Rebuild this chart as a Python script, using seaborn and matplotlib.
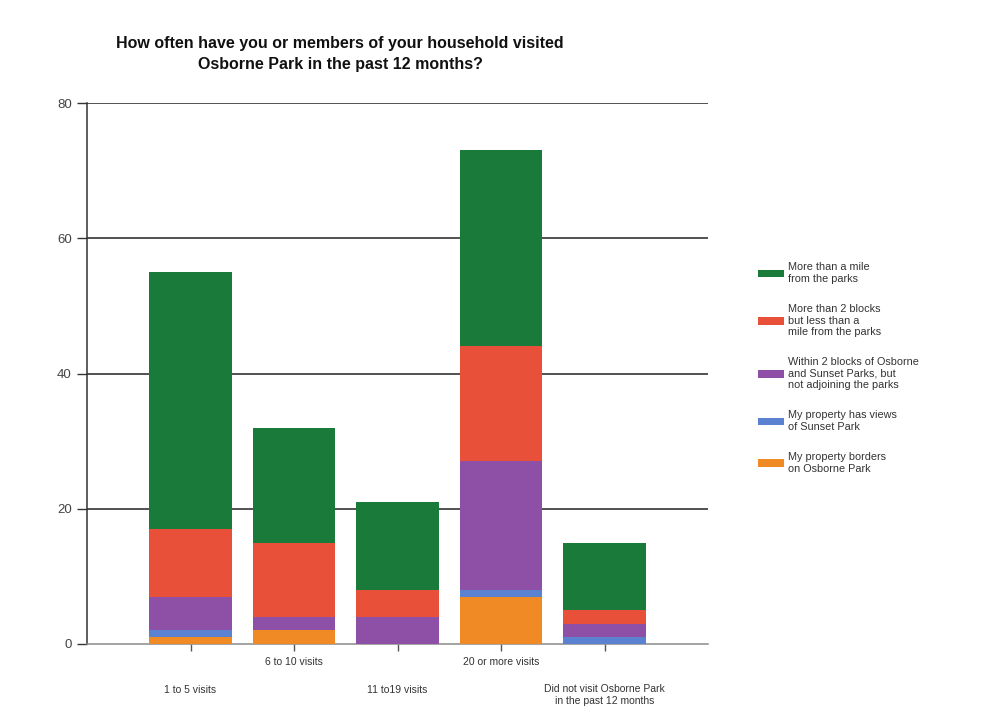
import matplotlib
matplotlib.use("Agg")
import matplotlib.pyplot as plt
import matplotlib.transforms as mtransforms
from matplotlib.patches import Patch
import numpy as np
import pandas as pd
import seaborn as sns

# Survey responses: visit frequency by distance from the parks
categories = ["1 to 5 visits", "6 to 10 visits", "11 to19 visits",
              "20 or more visits",
              "Did not visit Osborne Park\nin the past 12 months"]
borders_osborne = [1, 2, 0, 7, 0]
views_sunset = [1, 0, 0, 1, 1]
within_2_blocks = [5, 2, 4, 19, 2]
two_blocks_to_mile = [10, 11, 4, 17, 2]
more_than_mile = [38, 17, 13, 29, 10]

series_names = [
    "My property borders\non Osborne Park",
    "My property has views\nof Sunset Park",
    "Within 2 blocks of Osborne\nand Sunset Parks, but\nnot adjoining the parks",
    "More than 2 blocks\nbut less than a\nmile from the parks",
    "More than a mile\nfrom the parks",
]
series_values = [borders_osborne, views_sunset, within_2_blocks,
                 two_blocks_to_mile, more_than_mile]
series_colors = ["#f08a24", "#5b82d0", "#8e4fa6", "#e8503a", "#1a7a3a"]

y_ticks = [0, 20, 40, 60, 80]

sns.set_theme(style="white")
plt.rcParams["font.family"] = ["Liberation Sans", "DejaVu Sans"]

fig = plt.figure(figsize=(9.89, 7.15), dpi=100)
ax = fig.add_axes([87 / 989, 71 / 715, 621 / 989, 541 / 715])

df = pd.DataFrame({"category": categories})
cum = np.cumsum(np.array(series_values), axis=0)

# Stacked bars: paint cumulative totals from the top layer downwards
for i in range(len(series_values) - 1, -1, -1):
    df["value"] = cum[i]
    sns.barplot(data=df, x="category", y="value", color=series_colors[i],
                saturation=1, width=0.8, ax=ax, zorder=3,
                edgecolor="none", linewidth=0)

ax.set_xlim(-1.0, 5.0)
ax.set_ylim(0, 80)
ax.set_yticks(y_ticks)
ax.set_yticklabels([str(v) for v in y_ticks], fontsize=9.5, color="#444444")
for v in y_ticks[1:]:
    ax.axhline(v, color="#333333", linewidth=1.2, zorder=1)

ax.set_xlabel("")
ax.set_ylabel("")
ax.set_xticks(range(len(categories)))
ax.set_xticklabels([])
ax.tick_params(axis="y", which="both", left=True, length=7, width=1,
               color="#333333", pad=4)
ax.tick_params(axis="x", which="both", bottom=True, length=5, width=1,
               color="#555555")

for side in ["top", "right"]:
    ax.spines[side].set_visible(False)
ax.spines["left"].set_color("#333333")
ax.spines["left"].set_linewidth(1.1)
ax.spines["bottom"].set_color("#8a8a8a")
ax.spines["bottom"].set_linewidth(1.1)

# Category labels alternate between two rows under the axis
trans = mtransforms.blended_transform_factory(ax.transData, ax.transAxes)
for i, label in enumerate(categories):
    if "\n" in label:
        y, va = -40 / 541, "top"
    else:
        y, va = (-18 / 541 if i % 2 == 1 else -46 / 541), "center"
    ax.text(i, y, label, transform=trans, ha="center", va=va,
            fontsize=7.5, color="#333333", linespacing=1.25)

fig.text(340 / 989, 1 - 54 / 715,
         "How often have you or members of your household visited\n"
         "Osborne Park in the past 12 months?",
         ha="center", va="center", fontsize=11.5, fontweight="bold",
         color="#111111", linespacing=1.45)

handles = [Patch(facecolor=c, edgecolor="none") for c in series_colors[::-1]]
fig.legend(handles, series_names[::-1], loc="center left",
           bbox_to_anchor=(748 / 989, 1 - 368 / 715), frameon=False,
           fontsize=7.8, handlelength=2.4, handleheight=0.7,
           handletextpad=0.4, labelspacing=1.85, labelcolor="#333333")

fig.savefig("out.png", dpi=100, facecolor="white")
